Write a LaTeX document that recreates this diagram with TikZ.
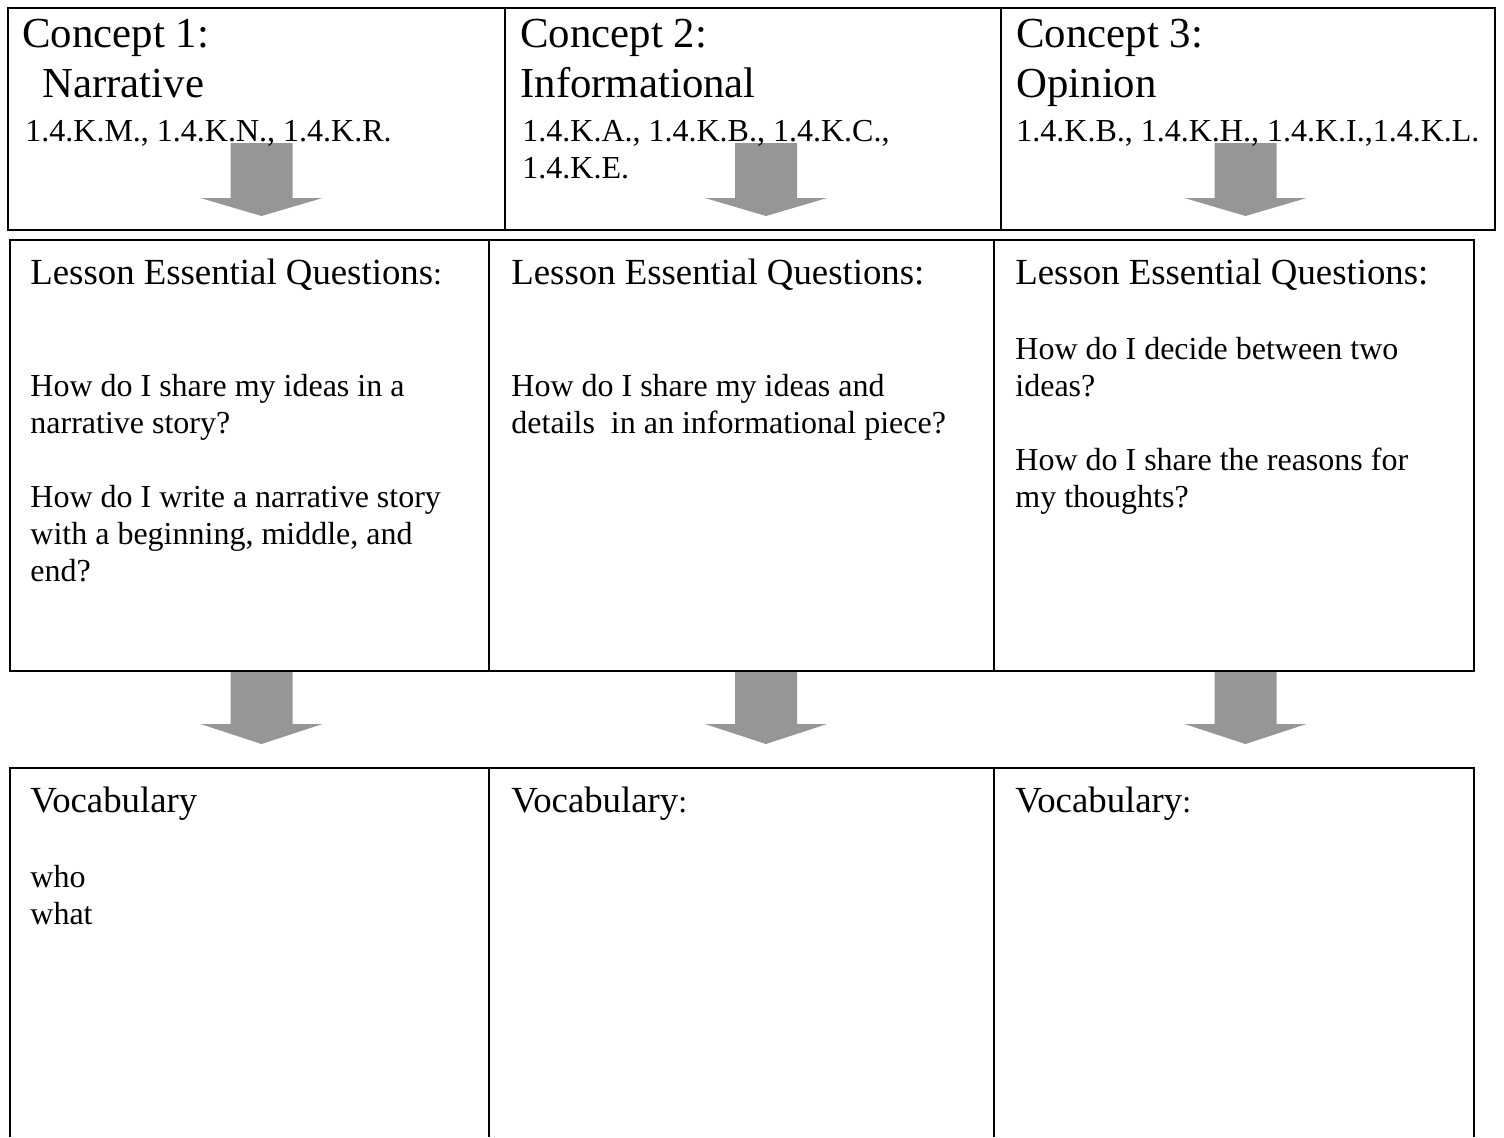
\documentclass[tikz,border=0pt]{standalone}
\usepackage{fontspec}
\setmainfont{Liberation Serif}
\begin{document}
\begin{tikzpicture}[
	x=0.5pt, y=-0.5pt,
	frame/.style={line width=1.2pt},
	cell/.style={line width=0.8pt},
	concept/.style={anchor=base west, inner sep=0pt, align=left, font=\fontsize{21.4}{25}\selectfont},
	codes/.style={anchor=base west, inner sep=0pt, align=left, font=\fontsize{16}{18.5}\selectfont},
	heading/.style={anchor=base west, inner sep=0pt, font=\fontsize{18.4}{22}\selectfont},
	body/.style={anchor=base west, inner sep=0pt, align=left, font=\fontsize{16}{18.5}\selectfont},
	blockarrow/.style={fill=black!41}
	]
	\useasboundingbox (0,0) rectangle (1504,1137);
	\def\sm{\fontsize{16}{18.5}\selectfont}
	
	% block arrows
	\foreach \cx in {261.5,766,1245.5}{
		\fill[blockarrow] (\cx-31,143) -- (\cx+31,143) -- (\cx+31,198) -- (\cx+61,198) -- (\cx,216) -- (\cx-61,198) -- (\cx-31,198) -- cycle;
		\fill[blockarrow] (\cx-31,671) -- (\cx+31,671) -- (\cx+31,724) -- (\cx+61,724) -- (\cx,744) -- (\cx-61,724) -- (\cx-31,724) -- cycle;
	}
	
	% concepts (multi-line nodes sit on their last baseline)
	\draw[frame] (8,8) rectangle (1495,230);
	\draw[frame] (505,8) -- (505,230);
	\draw[frame] (1001,8) -- (1001,230);
	\node[concept] (c1) at (22,97) {Concept 1:\\\hspace*{10pt}Narrative};
	\node[codes] (k1) at (25,141) {1.4.K.M., 1.4.K.N., 1.4.K.R.};
	\node[concept] (c2) at (520,97) {Concept 2:\\Informational};
	\node[codes] (k2) at (522,178) {1.4.K.A., 1.4.K.B., 1.4.K.C.,\\1.4.K.E.};
	\node[concept] (c3) at (1016,97) {Concept 3:\\Opinion};
	\node[codes] (k3) at (1016,141) {1.4.K.B., 1.4.K.H., 1.4.K.I.,1.4.K.L.};
	
	% essential questions
	\draw[cell] (10,240) rectangle (1474,671);
	\draw[cell] (489,240) -- (489,671);
	\draw[cell] (994,240) -- (994,671);
	\node[heading] (q1) at (30,284) {Lesson Essential Questions{\sm:}};
	\node[heading] (q2) at (511,284) {Lesson Essential Questions:};
	\node[heading] (q3) at (1015,284) {Lesson Essential Questions:};
	\node[body] (b1) at (30,581) {How do I share my ideas in a\\narrative story?\\[18.5pt]How do I write a narrative story\\with a beginning, middle, and\\end?};
	\node[body] (b2) at (511,433) {How do I share my ideas and\\details\ \ in an informational piece?};
	\node[body] (b3) at (1015,507) {How do I decide between two\\ideas?\\[18.5pt]How do I share the reasons for\\my thoughts?};
	
	% vocabulary
	\draw[cell] (10,1137) -- (10,768) -- (1474,768) -- (1474,1137);
	\draw[cell] (489,768) -- (489,1137);
	\draw[cell] (994,768) -- (994,1137);
	\node[heading] (v1) at (30,812) {Vocabulary};
	\node[heading] (v2) at (511,812) {Vocabulary{\sm:}};
	\node[heading] (v3) at (1015,812) {Vocabulary{\sm:}};
	\node[body] (w1) at (30,924) {who\\what};
\end{tikzpicture}
\end{document}
